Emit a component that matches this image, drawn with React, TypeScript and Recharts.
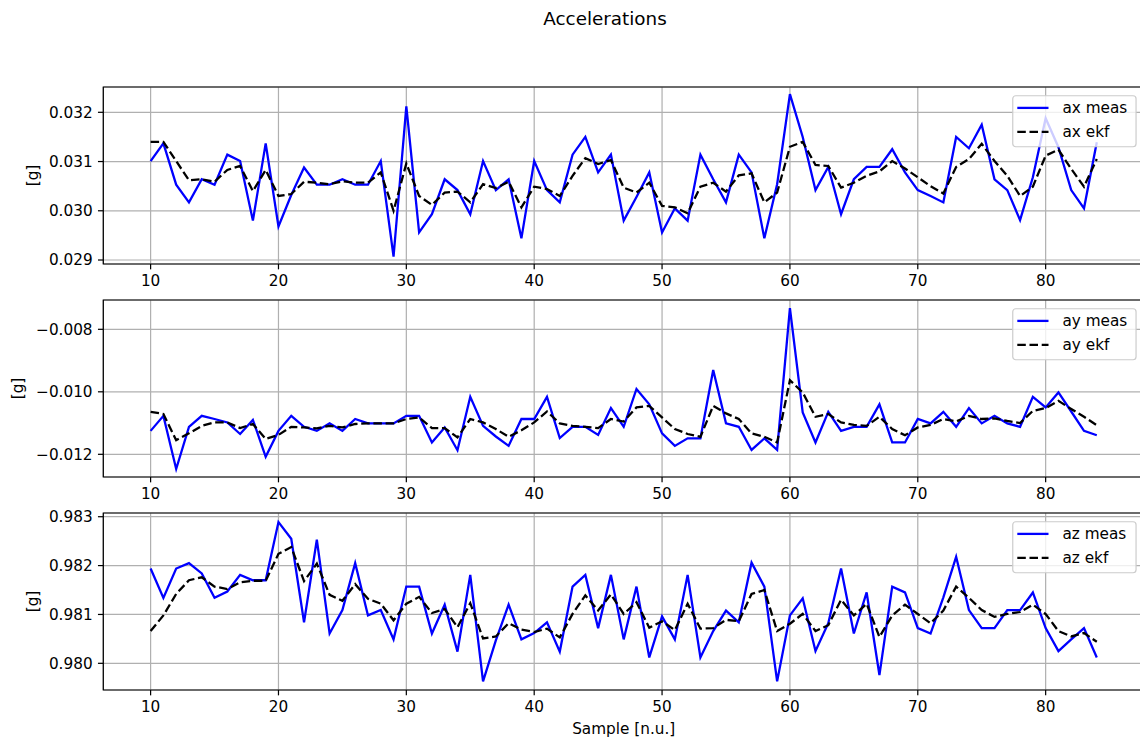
import React from 'react';
import { LineChart, Line, XAxis, YAxis, CartesianGrid, Legend, ReferenceArea } from 'recharts';

const samples = [
  10, 11, 12, 13, 14, 15, 16, 17, 18, 19,
  20, 21, 22, 23, 24, 25, 26, 27, 28, 29,
  30, 31, 32, 33, 34, 35, 36, 37, 38, 39,
  40, 41, 42, 43, 44, 45, 46, 47, 48, 49,
  50, 51, 52, 53, 54, 55, 56, 57, 58, 59,
  60, 61, 62, 63, 64, 65, 66, 67, 68, 69,
  70, 71, 72, 73, 74, 75, 76, 77, 78, 79,
  80, 81, 82, 83, 84,
];

const xTicks = [10, 20, 30, 40, 50, 60, 70, 80];

const axMeas = [
  0.03101, 0.03137, 0.03053, 0.03017, 0.03064, 0.03053, 0.03114, 0.03101, 0.02980, 0.03137,
  0.02968, 0.03032, 0.03088, 0.03053, 0.03053, 0.03064, 0.03053, 0.03053, 0.03101, 0.02907,
  0.03212, 0.02956, 0.02993, 0.03064, 0.03042, 0.02993, 0.03101, 0.03042, 0.03064, 0.02944,
  0.03101, 0.03042, 0.03017, 0.03114, 0.03150, 0.03078, 0.03114, 0.02980, 0.03028, 0.03078,
  0.02956, 0.03005, 0.02980, 0.03114, 0.03064, 0.03017, 0.03114, 0.03078, 0.02944, 0.03054,
  0.03237, 0.03150, 0.03042, 0.03089, 0.02993, 0.03064, 0.03089, 0.03089, 0.03125, 0.03078,
  0.03042, 0.03030, 0.03017, 0.03150, 0.03127, 0.03175, 0.03064, 0.03042, 0.02981, 0.03068,
  0.03188, 0.03129, 0.03042, 0.03005, 0.03139,
];
const axEkf = [
  0.03140, 0.03140, 0.03101, 0.03062, 0.03064, 0.03059, 0.03083, 0.03091, 0.03040, 0.03083,
  0.03030, 0.03034, 0.03059, 0.03057, 0.03054, 0.03060, 0.03057, 0.03057, 0.03078, 0.03000,
  0.03096, 0.03030, 0.03012, 0.03037, 0.03039, 0.03017, 0.03054, 0.03046, 0.03059, 0.03007,
  0.03049, 0.03044, 0.03030, 0.03071, 0.03107, 0.03095, 0.03103, 0.03047, 0.03037, 0.03057,
  0.03010, 0.03007, 0.02995, 0.03049, 0.03057, 0.03039, 0.03072, 0.03076, 0.03017, 0.03037,
  0.03130, 0.03140, 0.03093, 0.03091, 0.03047, 0.03057, 0.03071, 0.03080, 0.03101, 0.03086,
  0.03068, 0.03050, 0.03035, 0.03089, 0.03105, 0.03136, 0.03101, 0.03071, 0.03030, 0.03049,
  0.03112, 0.03124, 0.03085, 0.03049, 0.03105,
];
const ayMeas = [
  -0.01125, -0.01077, -0.01247, -0.01112, -0.01077, -0.01087, -0.01098, -0.01135, -0.01090, -0.01208,
  -0.01125, -0.01077, -0.01112, -0.01125, -0.01101, -0.01125, -0.01087, -0.01101, -0.01101, -0.01101,
  -0.01077, -0.01077, -0.01162, -0.01114, -0.01187, -0.01016, -0.01109, -0.01143, -0.01173, -0.01087,
  -0.01087, -0.01016, -0.01148, -0.01112, -0.01112, -0.01138, -0.01052, -0.01112, -0.00991, -0.01040,
  -0.01133, -0.01173, -0.01149, -0.01149, -0.00930, -0.01101, -0.01112, -0.01186, -0.01149, -0.01186,
  -0.00732, -0.01066, -0.01162, -0.01064, -0.01125, -0.01112, -0.01112, -0.01040, -0.01162, -0.01162,
  -0.01087, -0.01101, -0.01064, -0.01112, -0.01052, -0.01101, -0.01077, -0.01101, -0.01112, -0.01016,
  -0.01050, -0.01002, -0.01063, -0.01125, -0.01139,
];
const ayEkf = [
  -0.01064, -0.01071, -0.01155, -0.01133, -0.01109, -0.01098, -0.01098, -0.01116, -0.01103, -0.01151,
  -0.01138, -0.01112, -0.01114, -0.01117, -0.01109, -0.01114, -0.01103, -0.01101, -0.01101, -0.01101,
  -0.01087, -0.01082, -0.01116, -0.01116, -0.01146, -0.01087, -0.01098, -0.01119, -0.01144, -0.01123,
  -0.01098, -0.01063, -0.01101, -0.01109, -0.01112, -0.01116, -0.01087, -0.01095, -0.01050, -0.01045,
  -0.01082, -0.01119, -0.01135, -0.01144, -0.01045, -0.01069, -0.01087, -0.01133, -0.01144, -0.01162,
  -0.00963, -0.01002, -0.01080, -0.01071, -0.01098, -0.01106, -0.01109, -0.01080, -0.01119, -0.01139,
  -0.01114, -0.01106, -0.01087, -0.01095, -0.01077, -0.01087, -0.01085, -0.01093, -0.01100, -0.01061,
  -0.01052, -0.01029, -0.01055, -0.01080, -0.01107,
];
const azMeas = [
  0.98194, 0.98134, 0.98194, 0.98205, 0.98184, 0.98134, 0.98147, 0.98181, 0.98170, 0.98170,
  0.98289, 0.98255, 0.98084, 0.98253, 0.98061, 0.98109, 0.98205, 0.98098, 0.98109, 0.98049,
  0.98157, 0.98157, 0.98061, 0.98120, 0.98024, 0.98181, 0.97963, 0.98047, 0.98120, 0.98049,
  0.98062, 0.98084, 0.98024, 0.98157, 0.98181, 0.98072, 0.98181, 0.98049, 0.98157, 0.98012,
  0.98096, 0.98049, 0.98181, 0.98012, 0.98066, 0.98108, 0.98084, 0.98206, 0.98157, 0.97963,
  0.98098, 0.98133, 0.98025, 0.98082, 0.98194, 0.98061, 0.98145, 0.97976, 0.98157, 0.98145,
  0.98072, 0.98061, 0.98135, 0.98218, 0.98109, 0.98072, 0.98072, 0.98109, 0.98109, 0.98145,
  0.98072, 0.98025, 0.98049, 0.98072, 0.98012,
];
const azEkf = [
  0.98066, 0.98098, 0.98142, 0.98170, 0.98176, 0.98157, 0.98152, 0.98166, 0.98169, 0.98169,
  0.98224, 0.98238, 0.98168, 0.98204, 0.98140, 0.98128, 0.98162, 0.98132, 0.98122, 0.98088,
  0.98122, 0.98136, 0.98103, 0.98111, 0.98074, 0.98123, 0.98051, 0.98055, 0.98082, 0.98069,
  0.98064, 0.98071, 0.98053, 0.98101, 0.98139, 0.98108, 0.98141, 0.98101, 0.98125, 0.98073,
  0.98086, 0.98068, 0.98122, 0.98071, 0.98072, 0.98089, 0.98086, 0.98142, 0.98150, 0.98066,
  0.98081, 0.98101, 0.98066, 0.98078, 0.98130, 0.98098, 0.98122, 0.98054, 0.98098, 0.98120,
  0.98101, 0.98082, 0.98108, 0.98157, 0.98134, 0.98109, 0.98095, 0.98101, 0.98105, 0.98120,
  0.98101, 0.98066, 0.98055, 0.98062, 0.98044,
];

const axTicks = [0.029, 0.03, 0.031, 0.032];
const ayTicks = [-0.012, -0.01, -0.008];
const azTicks = [0.98, 0.981, 0.982, 0.983];

const FONT = '"DejaVu Sans", sans-serif';
const FS = 15.28;
const LW = 2.29;
const DASH = '8.5 3.7';
const X_DOMAIN: [number, number] = [6.3, 87.7];
const PAD_TOP = 12;

const fmt = (v: number) => (v < 0 ? '\u2212' : '') + Math.abs(v).toFixed(3);

type PanelProps = {
  top: number;
  measKey: string;
  ekfKey: string;
  measName: string;
  ekfName: string;
  meas: number[];
  ekf: number[];
  domain: [number, number];
  ticks: number[];
};

const LegendBox = (props: any) => {
  const { payload, dashMap, order } = props;
  const w = 124.8;
  const h = 52.5;
  const items = [...(payload || [])].sort(
    (a: any, b: any) => order.indexOf(a.dataKey) - order.indexOf(b.dataKey)
  );
  return (
    <svg width={w + 2} height={h + 2} style={{ display: 'block' }}>
      <rect x={0.75} y={0.75} width={w - 1.5} height={h - 1.5} rx={3} ry={3}
        fill="#ffffff" fillOpacity={0.8} stroke="#cccccc" strokeWidth={1.2} />
      {items.map((p: any, i: number) => {
        const cy = 12.9 + 24 * i;
        return (
          <g key={String(p.dataKey)}>
            <line x1={5.3} x2={36.5} y1={cy} y2={cy} stroke={p.color} strokeWidth={LW}
              strokeDasharray={dashMap[p.dataKey] || undefined} />
            <text x={50.5} y={cy} dominantBaseline="central" fontFamily={FONT} fontSize={FS} fill="#000">
              {p.value}
            </text>
          </g>
        );
      })}
    </svg>
  );
};

const Panel = ({ top, measKey, ekfKey, measName, ekfName, meas, ekf, domain, ticks }: PanelProps) => {
  const data = samples.map((s, i) => ({ sample: s, [measKey]: meas[i], [ekfKey]: ekf[i] }));
  const dashMap: Record<string, string> = { [ekfKey]: DASH };
  const order = [measKey, ekfKey];
  return (
    <div style={{ position: 'absolute', left: 0, top: top - PAD_TOP }}>
      <LineChart width={1150} height={207 + PAD_TOP} data={data}
        margin={{ top: PAD_TOP, right: 5.9, bottom: 0, left: 10.3 }}>
        <CartesianGrid stroke="#b0b0b0" strokeWidth={1.22} />
        <XAxis dataKey="sample" type="number" domain={X_DOMAIN} ticks={xTicks} allowDataOverflow
          interval={0} height={30} axisLine={false} tickSize={5.35} tickMargin={5.35}
          tickLine={{ stroke: '#000', strokeWidth: 1.22 }}
          tick={{ fill: '#000', fontSize: FS, fontFamily: FONT }} />
        <YAxis type="number" domain={domain} ticks={ticks} allowDataOverflow width={93}
          interval={0} axisLine={false} tickSize={5.35} tickMargin={5.35} tickFormatter={fmt}
          tickLine={{ stroke: '#000', strokeWidth: 1.22 }}
          tick={{ fill: '#000', fontSize: FS, fontFamily: FONT }} />
        <Line type="linear" dataKey={measKey} name={measName} stroke="#0000ff" strokeWidth={LW}
          dot={false} activeDot={false} isAnimationActive={false} />
        <Line type="linear" dataKey={ekfKey} name={ekfName} stroke="#000000" strokeWidth={LW}
          strokeDasharray={DASH} dot={false} activeDot={false} isAnimationActive={false} />
        <ReferenceArea x1={X_DOMAIN[0]} x2={X_DOMAIN[1]} y1={domain[0]} y2={domain[1]}
          fill="none" fillOpacity={0} stroke="#000" strokeWidth={1.22} ifOverflow="visible" />
        <Legend layout="vertical" align="center" verticalAlign="middle"
          wrapperStyle={{ top: PAD_TOP + 7.6, left: 1011.7, width: 127, height: 55 }}
          content={(p: any) => <LegendBox {...p} dashMap={dashMap} order={order} />} />
      </LineChart>
    </div>
  );
};

export default function App() {
  return (
    <div style={{ position: 'absolute', left: 0, top: 0, width: 1140, height: 740, overflow: 'hidden', background: '#fff', fontFamily: FONT }}>
      <Panel top={87} measKey="axMeas" ekfKey="axEkf" measName="ax meas" ekfName="ax ekf"
        meas={axMeas} ekf={axEkf} domain={[0.028919, 0.032514]} ticks={axTicks} />
      <Panel top={300} measKey="ayMeas" ekfKey="ayEkf" measName="ay meas" ekfName="ay ekf"
        meas={ayMeas} ekf={ayEkf} domain={[-0.012726, -0.007062]} ticks={ayTicks} />
      <Panel top={513} measKey="azMeas" ekfKey="azEkf" measName="az meas" ekfName="az ekf"
        meas={azMeas} ekf={azEkf} domain={[0.979454, 0.983076]} ticks={azTicks} />
      <svg width={1140} height={740} style={{ position: 'absolute', left: 0, top: 0, pointerEvents: 'none' }}>
        <text x={605} y={18} textAnchor="middle" dominantBaseline="central" fontFamily={FONT} fontSize={18.33} fill="#000">Accelerations</text>
        <text x={623.7} y={729} textAnchor="middle" dominantBaseline="central" fontFamily={FONT} fontSize={FS} fill="#000">Sample [n.u.]</text>
        <text transform="translate(33,175.5) rotate(-90)" textAnchor="middle" dominantBaseline="central" fontFamily={FONT} fontSize={FS} fill="#000">[g]</text>
        <text transform="translate(18,388.5) rotate(-90)" textAnchor="middle" dominantBaseline="central" fontFamily={FONT} fontSize={FS} fill="#000">[g]</text>
        <text transform="translate(33,601.5) rotate(-90)" textAnchor="middle" dominantBaseline="central" fontFamily={FONT} fontSize={FS} fill="#000">[g]</text>
      </svg>
    </div>
  );
}
